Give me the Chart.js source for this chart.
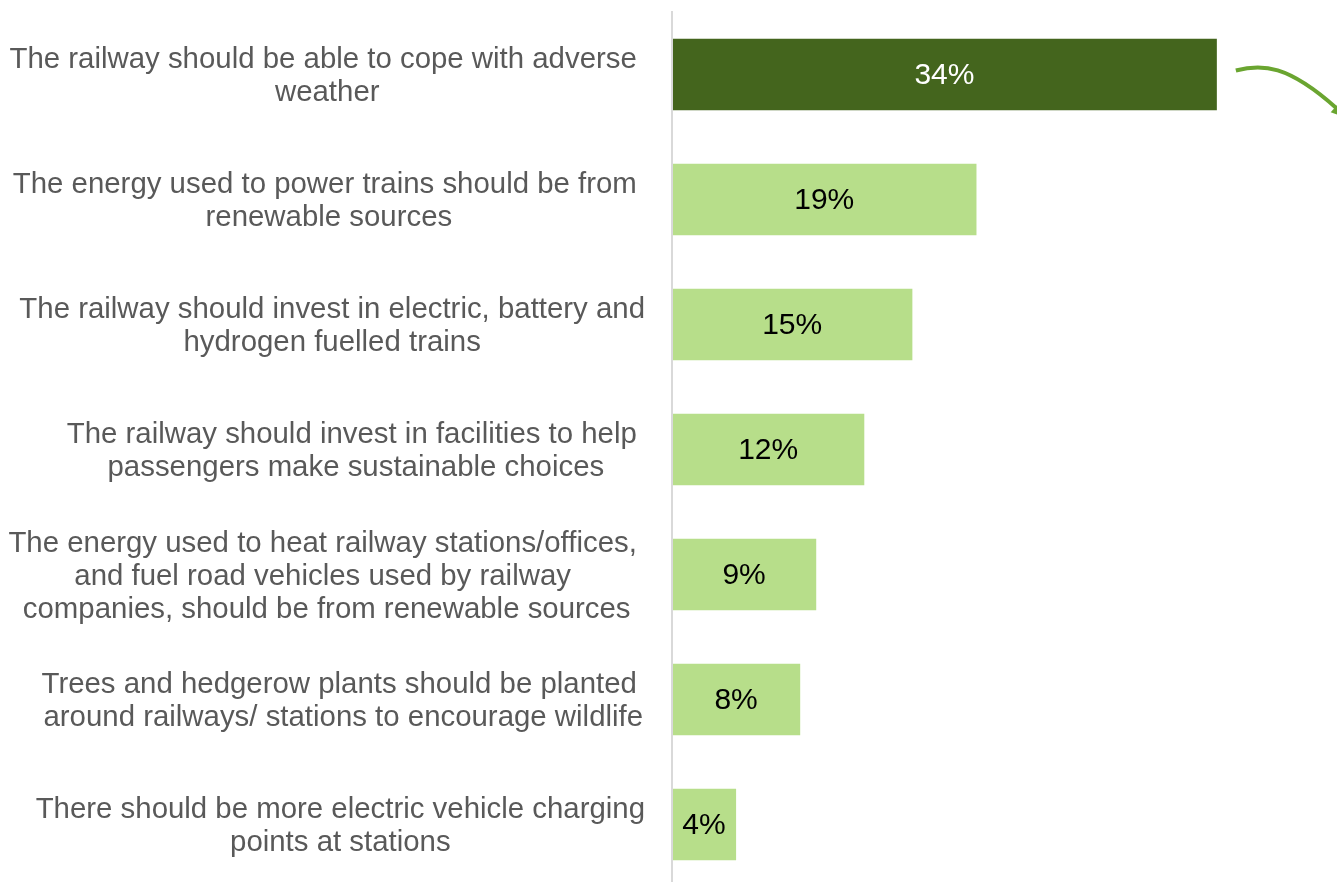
<!DOCTYPE html>
<html>
<head>
<meta charset="utf-8">
<script src="https://cdn.jsdelivr.net/npm/chart.js@4/dist/chart.umd.min.js"></script>
<style>
  html, body { margin: 0; padding: 0; background: #ffffff; overflow: hidden; }
  #wrap { position: relative; width: 1337px; height: 900px; }
</style>
</head>
<body>
<div id="wrap"><canvas id="chart"></canvas></div>
<script>
// Survey statements (wrapped as they appear on the axis)
const categories = [
  ["The railway should be able to cope with adverse ", "weather"],
  ["The energy used to power trains should be from ", "renewable sources"],
  ["The railway should invest in electric, battery and", "hydrogen fuelled trains"],
  ["The railway should invest in facilities to help ", "passengers make sustainable choices"],
  ["The energy used to heat railway stations/offices, ", "and fuel road vehicles used by railway ", "companies, should be from renewable sources"],
  ["Trees and hedgerow plants should be planted ", "around railways/ stations to encourage wildlife"],
  ["There should be more electric vehicle charging", "points at stations"]
];

// Share of respondents choosing each statement (%)
const shares = [34, 19, 15, 12, 9, 8, 4];

// Value labels shown inside the bars
const valueLabels = shares.map(v => v + '%');

// Top statement highlighted in dark green
const barColors = ['#44651d', '#b7de8a', '#b7de8a', '#b7de8a', '#b7de8a', '#b7de8a', '#b7de8a'];
const valueColors = ['#ffffff', '#000000', '#000000', '#000000', '#000000', '#000000', '#000000'];

// Axis range
const axisMin = 0;
const axisMax = 40;

const FONT = '"Liberation Sans", Arial, sans-serif';

// Category labels: each block right-aligned to the axis, its lines centred within the block
const categoryLabelPlugin = {
  id: 'categoryLabels',
  afterDraw(chart) {
    const ctx = chart.ctx;
    const yScale = chart.scales.y;
    const right = yScale.right - 27;
    const lineH = 33;
    ctx.save();
    ctx.font = '29.4px ' + FONT;
    ctx.fillStyle = '#595959';
    ctx.textAlign = 'center';
    ctx.textBaseline = 'middle';
    categories.forEach((lines, i) => {
      const cy = yScale.getPixelForTick(i) + 2;
      const w = Math.max(...lines.map(l => ctx.measureText(l).width));
      const cx = right - w / 2;
      const y0 = cy - (lines.length - 1) * lineH / 2;
      lines.forEach((l, k) => ctx.fillText(l, cx, y0 + k * lineH));
    });
    ctx.restore();
  }
};

// Percentages centred inside each bar, plus the curved pointer beside the top bar
const valueLabelPlugin = {
  id: 'valueLabels',
  afterDatasetsDraw(chart) {
    const ctx = chart.ctx;
    const meta = chart.getDatasetMeta(0);
    ctx.save();
    ctx.font = '30px ' + FONT;
    ctx.textAlign = 'center';
    ctx.textBaseline = 'middle';
    meta.data.forEach((bar, i) => {
      const p = bar.getProps(['x', 'y', 'base'], true);
      ctx.fillStyle = valueColors[i];
      ctx.fillText(valueLabels[i], (p.x + p.base) / 2, p.y + 1);
    });

    // curved arrow leaving the top bar
    const top = meta.data[0].getProps(['x', 'y'], true);
    const sx = top.x + 19, sy = top.y - 4;
    const ex = sx + 101, ey = sy + 38;
    const c2x = sx + 52, c2y = sy - 6;
    ctx.strokeStyle = '#6aa530';
    ctx.fillStyle = '#6aa530';
    ctx.lineWidth = 4;
    ctx.beginPath();
    ctx.moveTo(sx, sy);
    ctx.bezierCurveTo(sx + 26, sy - 7, c2x, c2y, ex, ey);
    ctx.stroke();
    // arrow head continuing along the end of the curve
    const ang = Math.atan2(ey - c2y, ex - c2x);
    const len = 16, half = 7;
    const bx = ex - Math.cos(ang) * 2, by = ey - Math.sin(ang) * 2;
    const tx = bx + Math.cos(ang) * len, ty = by + Math.sin(ang) * len;
    ctx.beginPath();
    ctx.moveTo(tx, ty);
    ctx.lineTo(bx - Math.sin(ang) * half, by + Math.cos(ang) * half);
    ctx.lineTo(bx + Math.sin(ang) * half, by - Math.cos(ang) * half);
    ctx.closePath();
    ctx.fill();
    ctx.restore();
  }
};

new Chart(document.getElementById('chart'), {
  type: 'bar',
  data: {
    labels: categories,
    datasets: [{
      data: shares,
      backgroundColor: barColors,
      borderWidth: 0,
      categoryPercentage: 1,
      barPercentage: 0.572
    }]
  },
  options: {
    indexAxis: 'y',
    responsive: true,
    maintainAspectRatio: false,
    animation: false,
    layout: { padding: { top: 12, bottom: 13, left: 0, right: 24 } },
    plugins: {
      legend: { display: false },
      tooltip: { enabled: false }
    },
    scales: {
      x: {
        display: false,
        min: axisMin,
        max: axisMax
      },
      y: {
        display: true,
        grid: { display: false },
        ticks: { display: false },
        border: { display: true, color: '#d9d9d9', width: 2, z: 1 },
        afterFit(scale) { scale.width = 672; }
      }
    }
  },
  plugins: [categoryLabelPlugin, valueLabelPlugin]
});
</script>
</body>
</html>
